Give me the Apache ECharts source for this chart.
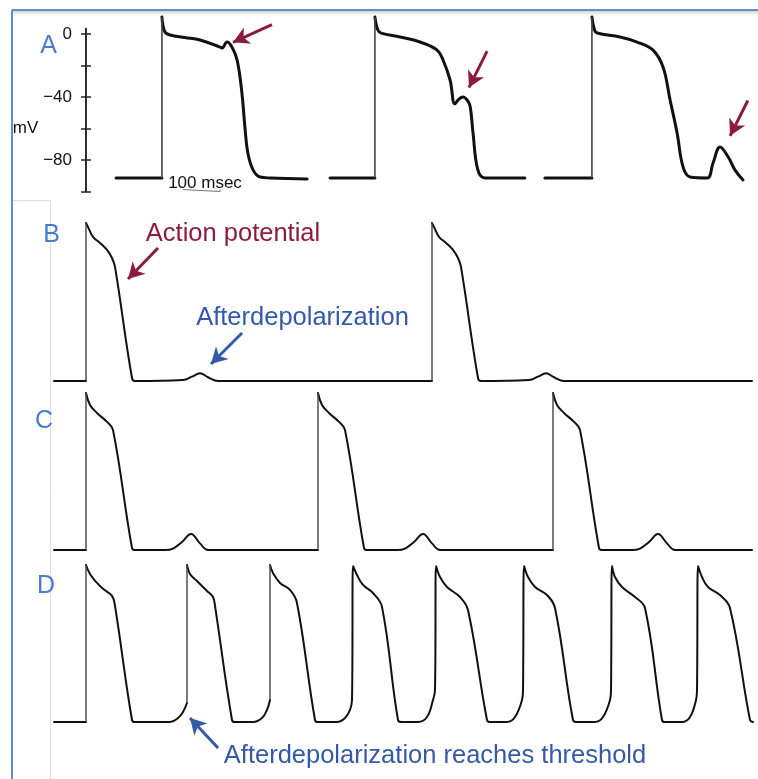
<!DOCTYPE html>
<html>
<head>
<meta charset="utf-8">
<script src="https://cdn.jsdelivr.net/npm/echarts@6/dist/echarts.min.js"></script>
<style>html,body{margin:0;padding:0;background:#fff;}#c{width:758px;height:779px;}</style>
</head>
<body>
<div id="c"></div>
<script>
// ---------- DATA (time in ms, voltage in mV) ----------
// Panel A: three single action potentials with afterdepolarizations
const aTrace1 = [[81,-91.4],[205,-91.4],[205,10.8],[213,1.3],[227,-0.6],[267,-2.2],[308,-3.8],[362,-8.3],[367,-8.9],[381,-5.1],[394,-8.3],[408,-16.5],[421,-37.5],[429,-59.0],[437,-75.6],[451,-86.3],[470,-90.8],[497,-91.4],[597,-92.1]];
const aTrace2 = [[659,-91.4],[780,-91.4],[780,10.8],[788,2.5],[797,0.6],[848,-1.9],[902,-5.1],[948,-10.2],[964,-16.5],[983,-29.2],[996,-44.4],[1007,-41.3],[1018,-40.0],[1029,-41.9],[1037,-45.7],[1045,-62.9],[1058,-86.3],[1077,-91.4],[1185,-91.4]];
const aTrace3 = [[1239,-91.4],[1366,-91.4],[1366,10.8],[1373,2.5],[1380,0.6],[1442,-1.9],[1488,-5.1],[1531,-10.2],[1558,-21.0],[1577,-41.9],[1596,-62.9],[1612,-84.4],[1631,-90.8],[1677,-91.4],[1693,-81.9],[1712,-71.7],[1734,-78.1],[1752,-86.3],[1774,-92.7]];
const aTicks = [-100,-80,-60,-40,-20,0];
const aTickLabels = [0,-40,-80];
const scaleBar = [[262,-98.8],[262,-100],[362,-100],[362,-98.8]];
// Panel B: two APs, subthreshold afterdepolarizations
const bTrace = [[8,-90],[72,-90],[72,20],[76,17.2],[86,10.3],[100,6.1],[114,1.2],[124,-4.4],[130,-10.6],[164,-87.9],[170,-90],[266,-89.3],[284,-87.0],[300,-84.6],[316,-87.4],[336,-90],[764,-90],[764,20],[768,17.2],[778,10.3],[792,6.1],[806,1.2],[816,-4.4],[822,-10.6],[856,-87.9],[862,-90],[958,-89.3],[976,-87.0],[992,-84.6],[1008,-87.4],[1028,-90],[1404,-90]];
// Panel C: three APs, larger afterdepolarizations
const cTrace = [[8,-90],[72,-90],[72,19.3],[80,11.0],[94,5.4],[114,-0.8],[126,-6.4],[164,-88.6],[170,-90],[230,-90],[246,-89],[264,-84.4],[282,-78.9],[300,-85.4],[316,-90],
  [536,-90],[536,19.3],[544,11.0],[558,5.4],[578,-0.8],[590,-6.4],[628,-88.6],[634,-90],[694,-90],[710,-89],[728,-84.4],[746,-78.9],[764,-85.4],[780,-90],
  [1006,-90],[1006,19.3],[1014,11.0],[1028,5.4],[1048,-0.8],[1060,-6.4],[1098,-88.6],[1104,-90],[1164,-90],[1180,-89],[1198,-84.4],[1216,-78.9],[1234,-85.4],[1250,-90],[1404,-90]];
// Panel D: afterdepolarizations reaching threshold -> triggered APs
const dTrace = [[8,-90],[72,-90],[72,19.3],[80,13.0],[94,6.8],[106,2.7],[124,-2.2],[130,-9.2],[164,-88.6],[170,-90],[240,-90],[256,-87.2],[266,-83.0],[274,-76.8],
  [274,19.3],[280,13.0],[294,8.2],[314,1.2],[326,-3.0],[330,-9.2],[364,-88.6],[370,-90],[406,-90],[424,-87.2],[434,-81.6],[440,-74.7],
  [440,19.3],[446,13.7],[460,6.8],[480,1.9],[494,-7.2],[530,-88.6],[536,-90],[574,-90],[590,-87.2],[600,-81.6],[604,-74.7],
  [606,18.6],[614,12.3],[626,5.4],[646,-0.2],[664,-9.9],[696,-88.6],[704,-90],[736,-90],[754,-86.5],[766,-74.7],[770,-67.7],
  [772,18.6],[780,10.9],[794,4.0],[820,-3.0],[836,-12.0],[874,-88.6],[880,-90],[914,-90],[930,-86.5],[944,-74.7],[946,-67.7],
  [948,18.6],[956,10.9],[970,4.0],[994,-1.6],[1010,-10.6],[1046,-88.6],[1054,-90],[1090,-90],[1106,-86.5],[1120,-74.7],[1122,-67.7],
  [1124,18.6],[1130,10.9],[1144,4.0],[1170,-3.0],[1190,-10.6],[1224,-88.6],[1230,-90],[1264,-90],[1280,-86.5],[1292,-74.7],[1294,-67.7],
  [1296,18.6],[1304,10.9],[1316,4.0],[1340,-1.6],[1360,-10.6],[1400,-88.6],[1406,-90]];
// Annotation arrows: [tail, head] in data units
const arrowsA = [[[502,7.6],[397,-3.8]], [[1083,-9.5],[1034,-33.0]], [[1787,-41.3],[1739,-64.1]]];
const arrowBRed = [[216,2.6],[156,-19.0]];
const arrowBBlue = [[384,-56.6],[322,-78.2]];
const arrowDBlue = [[336,-108.1],[280,-87.2]];
</script>
<script>
const FONT = '"Liberation Sans", Arial, Helvetica, sans-serif';
const RED = '#8c1c3e', BLUE = '#3559a8', LETTER = '#4a7ccb';
const ARROW = 'path://M0,0 M100,0 M50,50 L78,100 L50,86 L22,100 Z';
const isUp = (d, i) => i < d.length - 1 && d[i][0] === d[i+1][0];
// main trace: break the line at each vertical upstroke so the corners stay sharp
function mainPart(d){
  const out = [];
  for (let i = 0; i < d.length; i++) {
    out.push(d[i]);
    if (isUp(d, i)) out.push([d[i][0], '-']);
  }
  return out;
}
// upstrokes only (drawn as thin fast strokes, as in the recording)
function upPart(d){
  const out = [];
  for (let i = 0; i < d.length; i++) {
    if (isUp(d, i)) out.push(d[i], d[i+1], [d[i][0], '-']);
  }
  return out;
}
function arrowLines(list, color, width, size){
  return {silent:true, animation:false, symbol:['none', ARROW], symbolSize:size,
    lineStyle:{color:color, width:width, type:'solid'}, label:{show:false},
    emphasis:{disabled:true},
    data:list.map(a => [{coord:a[0]},{coord:a[1]}])};
}
function traces(data, xi, yi, width, upWidth, extra){
  return [
    Object.assign({type:'line', xAxisIndex:xi, yAxisIndex:yi, data:mainPart(data), symbol:'none', clip:false,
      smooth:0.4, connectNulls:false, silent:true, animation:false,
      lineStyle:{color:'#111', width:width, join:'round', cap:'round'}}, extra||{}),
    {type:'line', xAxisIndex:xi, yAxisIndex:yi, data:upPart(data), symbol:'none', clip:false,
      smooth:false, connectNulls:false, silent:true, animation:false,
      lineStyle:{color:'#444', width:upWidth}}
  ];
}
const chart = echarts.init(document.getElementById('c'), null, {renderer:'canvas'});
const yA = (inside, labels) => ({gridIndex:0, type:'value', min:-100, max:3.5, position:'left',
  axisLine:{show:true, lineStyle:{color:'#222', width:1.5}},
  axisTick:{show:true, inside:inside, length:5, customValues:aTicks, lineStyle:{color:'#222', width:1.5}},
  axisLabel:{show:labels, customValues:aTickLabels, margin:14, fontSize:17, fontFamily:FONT, color:'#111',
    formatter:v => String(v).replace('-', '\u2212')},
  splitLine:{show:false}});
const hiddenY = (gi, min, max) => ({gridIndex:gi, type:'value', min:min, max:max, show:false});
const hiddenX = (gi, max) => ({gridIndex:gi, type:'value', min:0, max:max, show:false});
const txt = (t, x, y, size, color) => ({type:'text', x:x, y:y, silent:true,
  style:{text:t, fontSize:size, fontFamily:FONT, fill:color, align:'center', verticalAlign:'middle'}});
chart.setOption({
  animation:false,
  backgroundColor:'#fff',
  grid:[
    {left:86, top:28.49, width:670, height:163.01},
    {left:50, top:208.6, width:706, height:215.5},
    {left:50, top:377.6, width:706, height:215.5},
    {left:50, top:549.6, width:706, height:215.5},
    {left:86, top:-3.01, width:670, height:194.51}   // annotation layer for panel A (same scale)
  ],
  xAxis:[hiddenX(0,1809), hiddenX(1,1412), hiddenX(2,1412), hiddenX(3,1412), hiddenX(4,1809)],
  yAxis:[yA(false,true), yA(true,false), hiddenY(1,-120,30), hiddenY(2,-120,30), hiddenY(3,-120,30), hiddenY(4,-100,23.5)],
  series:[
    ...traces(aTrace1, 0, 0, 3, 1.6),
    ...traces(aTrace2, 0, 0, 3, 1.6),
    ...traces(aTrace3, 0, 0, 3, 1.6),
    {type:'line', xAxisIndex:0, yAxisIndex:0, data:scaleBar, symbol:'none', silent:true, animation:false,
      lineStyle:{color:'#777', width:1}},
    {type:'line', xAxisIndex:4, yAxisIndex:5, data:[], symbol:'none', silent:true, animation:false,
      markLine:arrowLines(arrowsA, RED, 3, 32)},
    ...traces(bTrace, 1, 2, 2, 1.4, {markLine:arrowLines([arrowBRed], RED, 3, 32)}),
    {type:'line', xAxisIndex:1, yAxisIndex:2, data:[], symbol:'none', silent:true, animation:false,
      markLine:arrowLines([arrowBBlue], BLUE, 3, 32)},
    ...traces(cTrace, 2, 3, 2, 1.4),
    ...traces(dTrace, 3, 4, 2, 1.4, {markLine:arrowLines([arrowDBlue], BLUE, 3, 32)})
  ],
  graphic:[
    {type:'rect', shape:{x:12, y:11, width:746, height:6}, silent:true,
      style:{fill:new echarts.graphic.LinearGradient(0,0,0,1,[{offset:0,color:'#cfcfcf'},{offset:1,color:'rgba(255,255,255,0)'}])}},
    {type:'line', shape:{x1:12, y1:10, x2:758, y2:10}, silent:true, style:{stroke:'#5b8ed6', lineWidth:2}},
    {type:'line', shape:{x1:12, y1:10, x2:12, y2:779}, silent:true, style:{stroke:'#5b8ed6', lineWidth:2}},
    {type:'polyline', shape:{points:[[13,200.5],[50.5,200.5],[50.5,779]]}, silent:true, style:{stroke:'#dedede', lineWidth:1, fill:null}},
    txt('A', 48.5, 46, 25, LETTER),
    txt('B', 51.5, 235, 25, LETTER),
    txt('C', 44, 421, 25, LETTER),
    txt('D', 46, 586, 25, LETTER),
    txt('mV', 25.5, 128, 17, '#111'),
    txt('100 msec', 205, 183, 17, '#111'),
    txt('Action potential', 233, 234, 25.5, RED),
    txt('Afterdepolarization', 302.5, 318, 25.5, BLUE),
    txt('Afterdepolarization reaches threshold', 435, 756, 25.5, BLUE)
  ]
});
</script>
</body>
</html>
